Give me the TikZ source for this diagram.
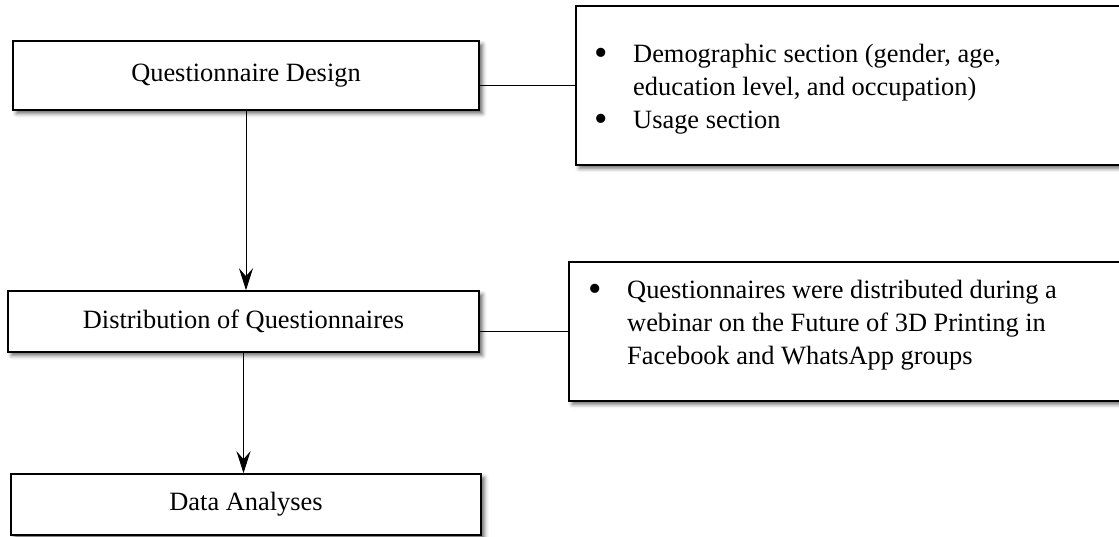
\documentclass[tikz,border=0pt]{standalone}
\usepackage{fontspec}
\setmainfont{Liberation Serif}
\usetikzlibrary{arrows.meta,shadows.blur}

% punto de lista
\newcommand{\bulletmark}{\makebox[39pt][l]{\raisebox{-3.5pt}{\scalebox{1.45}{\textbullet}}}}

\tikzset{
  stagebox/.style={draw, line width=1.6pt, fill=white, inner sep=0pt,
    blur shadow={shadow xshift=3.5pt, shadow yshift=-3.5pt, shadow blur radius=4pt, shadow opacity=60}},
  itemtext/.style={anchor=base west, inner sep=0pt},
  flow/.style={line width=0.8pt, -{Stealth[length=22pt, width=14pt, inset=8pt]}},
  link/.style={line width=0.8pt}
}

\begin{document}
\begin{tikzpicture}[x=1pt, y=-1pt, font=\fontsize{26.4}{33}\selectfont]
    \useasboundingbox (0,0) rectangle (1119,536);

    % Etapas
    \node[stagebox, minimum width=466pt, minimum height=69pt] (design) at (246,75.5) {Questionnaire Design};
    \node[stagebox, minimum width=471pt, minimum height=61pt] (distrib) at (243.5,321.5) {Distribution of Questionnaires};
    \node[stagebox, minimum width=470pt, minimum height=61pt] (analysis) at (246,504.5) {Data Analyses};

    % Cuadros de detalle
    \node[stagebox, anchor=north west, minimum width=600pt, minimum height=159pt] (sections) at (575,5) {};
    \node[stagebox, anchor=north west, minimum width=600pt, minimum height=139pt] (spread) at (568,261) {};

    % Texto de los cuadros
    \node[itemtext] (secA) at (594,62) {\bulletmark Demographic section (gender, age,};
    \node[itemtext] (secB) at (633,95) {education level, and occupation)};
    \node[itemtext] (secC) at (594,128) {\bulletmark Usage section};

    \node[itemtext] (sprA) at (588,298) {\bulletmark Questionnaires were distributed during a};
    \node[itemtext] (sprB) at (627,331) {webinar on the Future of 3D Printing in};
    \node[itemtext] (sprC) at (627,364) {Facebook and WhatsApp groups};

    % Flechas y conectores
    \draw[flow] (design.south) -- (design.south |- distrib.north);
    \draw[flow] (distrib.south) -- (distrib.south |- analysis.north);
    \draw[link] (sections.west -| design.east) -- (sections.west);
    \draw[link] (spread.west -| distrib.east) -- (spread.west);

  \end{tikzpicture}
\end{document}
